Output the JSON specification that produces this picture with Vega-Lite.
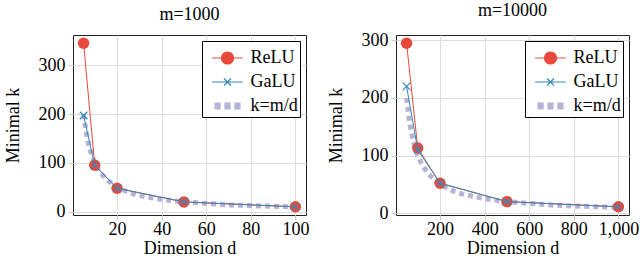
{
  "$schema": "https://vega.github.io/schema/vega-lite/v6.json",
  "padding": {"left": 3, "top": 1, "right": 0, "bottom": 0},
  "spacing": 16,
  "datasets": {
    "main": [
      {"panel": "m=1000", "series": "ReLU", "d": 5, "k": 345},
      {"panel": "m=1000", "series": "ReLU", "d": 10, "k": 95},
      {"panel": "m=1000", "series": "ReLU", "d": 20, "k": 48},
      {"panel": "m=1000", "series": "ReLU", "d": 50, "k": 20},
      {"panel": "m=1000", "series": "ReLU", "d": 100, "k": 10},
      {"panel": "m=1000", "series": "GaLU", "d": 5, "k": 197},
      {"panel": "m=1000", "series": "GaLU", "d": 10, "k": 95},
      {"panel": "m=1000", "series": "GaLU", "d": 20, "k": 48},
      {"panel": "m=1000", "series": "GaLU", "d": 50, "k": 20},
      {"panel": "m=1000", "series": "GaLU", "d": 100, "k": 10},
      {"panel": "m=1000", "series": "k=m/d", "d": 5, "k": 200},
      {"panel": "m=1000", "series": "k=m/d", "d": 6, "k": 167},
      {"panel": "m=1000", "series": "k=m/d", "d": 7, "k": 143},
      {"panel": "m=1000", "series": "k=m/d", "d": 8, "k": 125},
      {"panel": "m=1000", "series": "k=m/d", "d": 10, "k": 100},
      {"panel": "m=1000", "series": "k=m/d", "d": 12, "k": 83},
      {"panel": "m=1000", "series": "k=m/d", "d": 15, "k": 67},
      {"panel": "m=1000", "series": "k=m/d", "d": 20, "k": 50},
      {"panel": "m=1000", "series": "k=m/d", "d": 25, "k": 40},
      {"panel": "m=1000", "series": "k=m/d", "d": 30, "k": 33},
      {"panel": "m=1000", "series": "k=m/d", "d": 40, "k": 25},
      {"panel": "m=1000", "series": "k=m/d", "d": 50, "k": 20},
      {"panel": "m=1000", "series": "k=m/d", "d": 60, "k": 17},
      {"panel": "m=1000", "series": "k=m/d", "d": 70, "k": 14},
      {"panel": "m=1000", "series": "k=m/d", "d": 80, "k": 12.5},
      {"panel": "m=1000", "series": "k=m/d", "d": 90, "k": 11},
      {"panel": "m=1000", "series": "k=m/d", "d": 100, "k": 10},
      {"panel": "m=10000", "series": "ReLU", "d": 50, "k": 295},
      {"panel": "m=10000", "series": "ReLU", "d": 100, "k": 113},
      {"panel": "m=10000", "series": "ReLU", "d": 200, "k": 52},
      {"panel": "m=10000", "series": "ReLU", "d": 500, "k": 20},
      {"panel": "m=10000", "series": "ReLU", "d": 1000, "k": 11},
      {"panel": "m=10000", "series": "GaLU", "d": 50, "k": 220},
      {"panel": "m=10000", "series": "GaLU", "d": 100, "k": 110},
      {"panel": "m=10000", "series": "GaLU", "d": 200, "k": 52},
      {"panel": "m=10000", "series": "GaLU", "d": 500, "k": 20},
      {"panel": "m=10000", "series": "GaLU", "d": 1000, "k": 11},
      {"panel": "m=10000", "series": "k=m/d", "d": 50, "k": 200},
      {"panel": "m=10000", "series": "k=m/d", "d": 60, "k": 167},
      {"panel": "m=10000", "series": "k=m/d", "d": 70, "k": 143},
      {"panel": "m=10000", "series": "k=m/d", "d": 80, "k": 125},
      {"panel": "m=10000", "series": "k=m/d", "d": 100, "k": 100},
      {"panel": "m=10000", "series": "k=m/d", "d": 120, "k": 83},
      {"panel": "m=10000", "series": "k=m/d", "d": 150, "k": 67},
      {"panel": "m=10000", "series": "k=m/d", "d": 200, "k": 50},
      {"panel": "m=10000", "series": "k=m/d", "d": 250, "k": 40},
      {"panel": "m=10000", "series": "k=m/d", "d": 300, "k": 33},
      {"panel": "m=10000", "series": "k=m/d", "d": 400, "k": 25},
      {"panel": "m=10000", "series": "k=m/d", "d": 500, "k": 20},
      {"panel": "m=10000", "series": "k=m/d", "d": 600, "k": 17},
      {"panel": "m=10000", "series": "k=m/d", "d": 700, "k": 14},
      {"panel": "m=10000", "series": "k=m/d", "d": 800, "k": 12.5},
      {"panel": "m=10000", "series": "k=m/d", "d": 900, "k": 11},
      {"panel": "m=10000", "series": "k=m/d", "d": 1000, "k": 10}
    ]
  },
  "config": {
    "font": "Liberation Serif, DejaVu Serif, serif",
    "view": {"stroke": "#222222", "strokeWidth": 1},
    "axis": {
      "labelFont": "Liberation Serif, DejaVu Serif, serif", "labelFontSize": 18, "labelColor": "black",
      "titleFont": "Liberation Serif, DejaVu Serif, serif", "titleFontSize": 18, "titleFontWeight": "normal", "titleColor": "black",
      "gridColor": "#DDDDDD", "tickColor": "#CCCCCC", "tickSize": 5, "domain": false, "labelPadding": 3
    },
    "axisX": {"titlePadding": 1, "labelPadding": 0},
    "axisY": {"titlePadding": 16},
    "title": {"font": "Liberation Serif, DejaVu Serif, serif", "fontSize": 18, "fontWeight": "normal", "color": "black", "offset": 11},
    "legend": {
      "orient": "top-right", "offset": 6, "padding": 2,
      "strokeColor": "black", "fillColor": "white", "cornerRadius": 0,
      "labelFont": "Liberation Serif, DejaVu Serif, serif", "labelFontSize": 18, "labelColor": "black",
      "symbolSize": 784, "symbolOffset": 8.5, "symbolStrokeWidth": 1.2, "labelOffset": 8, "rowPadding": -1
    }
  },
  "resolve": {"scale": {"color": "independent", "shape": "independent", "stroke": "independent"}},
  "hconcat": [
    {
      "title": "m=1000",
      "width": 233, "height": 180,
      "data": {"name": "main"},
      "transform": [{"filter": "datum.panel == 'm=1000'"}],
      "encoding": {
        "x": {"field": "d", "type": "quantitative", "scale": {"domain": [0.25, 104.75], "nice": false, "zero": false}, "axis": {"title": "Dimension d", "values": [20, 40, 60, 80, 100], "format": ".0f"}},
        "y": {"field": "k", "type": "quantitative", "scale": {"domain": [-6.75, 361.75], "nice": false}, "axis": {"title": "Minimal k", "values": [0, 100, 200, 300], "format": ".0f"}}
      },
      "layer": [
        {"transform": [{"filter": "datum.series == 'k=m/d'"}], "mark": {"type": "line", "color": "#B6B4D6", "strokeWidth": 5, "strokeDash": [5, 4], "strokeCap": "butt"}},
        {"transform": [{"filter": "datum.series == 'ReLU'"}], "mark": {"type": "line", "color": "#E8493A", "strokeWidth": 1}},
        {"transform": [{"filter": "datum.series == 'ReLU'"}], "mark": {"type": "point", "shape": "circle", "filled": true, "color": "#E8493A", "size": 130, "opacity": 1}},
        {"transform": [{"filter": "datum.series == 'GaLU'"}], "mark": {"type": "line", "color": "#348ABD", "strokeWidth": 1}},
        {"transform": [{"filter": "datum.series == 'GaLU'"}], "mark": {"type": "point", "shape": "M-1,-1L1,1M-1,1L1,-1", "filled": false, "color": "#348ABD", "size": 56, "strokeWidth": 1.2, "opacity": 1}},
        {
          "transform": [{"filter": "datum.series == 'none'"}],
          "mark": {"type": "point", "filled": true, "opacity": 1, "strokeWidth": 1.2},
          "encoding": {
            "color": {"field": "series", "type": "nominal", "scale": {"domain": ["ReLU", "GaLU", "k=m/d"], "range": ["#E8493A", "#348ABD", "#B6B4D6"]}, "legend": {"title": null}},
            "stroke": {"field": "series", "type": "nominal", "scale": {"domain": ["ReLU", "GaLU", "k=m/d"], "range": ["#E8493A", "#348ABD", "#B6B4D6"]}, "legend": {"title": null}},
            "shape": {"field": "series", "type": "nominal", "scale": {"domain": ["ReLU", "GaLU", "k=m/d"], "range": [
              "M-1.1,0L1.1,0M0.43,0A0.43,0.43,0,1,1,-0.43,0A0.43,0.43,0,1,1,0.43,0Z",
              "M-1.1,0L1.1,0M-0.25,-0.25L0.25,0.25M-0.25,0.25L0.25,-0.25",
              "M-0.89,-0.21L-0.53,-0.21L-0.53,0.21L-0.89,0.21ZM-0.18,-0.21L0.18,-0.21L0.18,0.21L-0.18,0.21ZM0.53,-0.21L0.89,-0.21L0.89,0.21L0.53,0.21Z"
            ]}, "legend": {"title": null}}
          }
        }
      ]
    },
    {
      "title": "m=10000",
      "width": 233, "height": 180,
      "data": {"name": "main"},
      "transform": [{"filter": "datum.panel == 'm=10000'"}],
      "encoding": {
        "x": {"field": "d", "type": "quantitative", "scale": {"domain": [2.5, 1047.5], "nice": false, "zero": false}, "axis": {"title": "Dimension d", "values": [200, 400, 600, 800, 1000], "format": ",.0f"}},
        "y": {"field": "k", "type": "quantitative", "scale": {"domain": [-3.2, 309.2], "nice": false}, "axis": {"title": "Minimal k", "values": [0, 100, 200, 300], "format": ".0f"}}
      },
      "layer": [
        {"transform": [{"filter": "datum.series == 'k=m/d'"}], "mark": {"type": "line", "color": "#B6B4D6", "strokeWidth": 5, "strokeDash": [5, 4], "strokeCap": "butt"}},
        {"transform": [{"filter": "datum.series == 'ReLU'"}], "mark": {"type": "line", "color": "#E8493A", "strokeWidth": 1}},
        {"transform": [{"filter": "datum.series == 'ReLU'"}], "mark": {"type": "point", "shape": "circle", "filled": true, "color": "#E8493A", "size": 130, "opacity": 1}},
        {"transform": [{"filter": "datum.series == 'GaLU'"}], "mark": {"type": "line", "color": "#348ABD", "strokeWidth": 1}},
        {"transform": [{"filter": "datum.series == 'GaLU'"}], "mark": {"type": "point", "shape": "M-1,-1L1,1M-1,1L1,-1", "filled": false, "color": "#348ABD", "size": 56, "strokeWidth": 1.2, "opacity": 1}},
        {
          "transform": [{"filter": "datum.series == 'none'"}],
          "mark": {"type": "point", "filled": true, "opacity": 1, "strokeWidth": 1.2},
          "encoding": {
            "color": {"field": "series", "type": "nominal", "scale": {"domain": ["ReLU", "GaLU", "k=m/d"], "range": ["#E8493A", "#348ABD", "#B6B4D6"]}, "legend": {"title": null}},
            "stroke": {"field": "series", "type": "nominal", "scale": {"domain": ["ReLU", "GaLU", "k=m/d"], "range": ["#E8493A", "#348ABD", "#B6B4D6"]}, "legend": {"title": null}},
            "shape": {"field": "series", "type": "nominal", "scale": {"domain": ["ReLU", "GaLU", "k=m/d"], "range": [
              "M-1.1,0L1.1,0M0.43,0A0.43,0.43,0,1,1,-0.43,0A0.43,0.43,0,1,1,0.43,0Z",
              "M-1.1,0L1.1,0M-0.25,-0.25L0.25,0.25M-0.25,0.25L0.25,-0.25",
              "M-0.89,-0.21L-0.53,-0.21L-0.53,0.21L-0.89,0.21ZM-0.18,-0.21L0.18,-0.21L0.18,0.21L-0.18,0.21ZM0.53,-0.21L0.89,-0.21L0.89,0.21L0.53,0.21Z"
            ]}, "legend": {"title": null}}
          }
        }
      ]
    }
  ]
}
